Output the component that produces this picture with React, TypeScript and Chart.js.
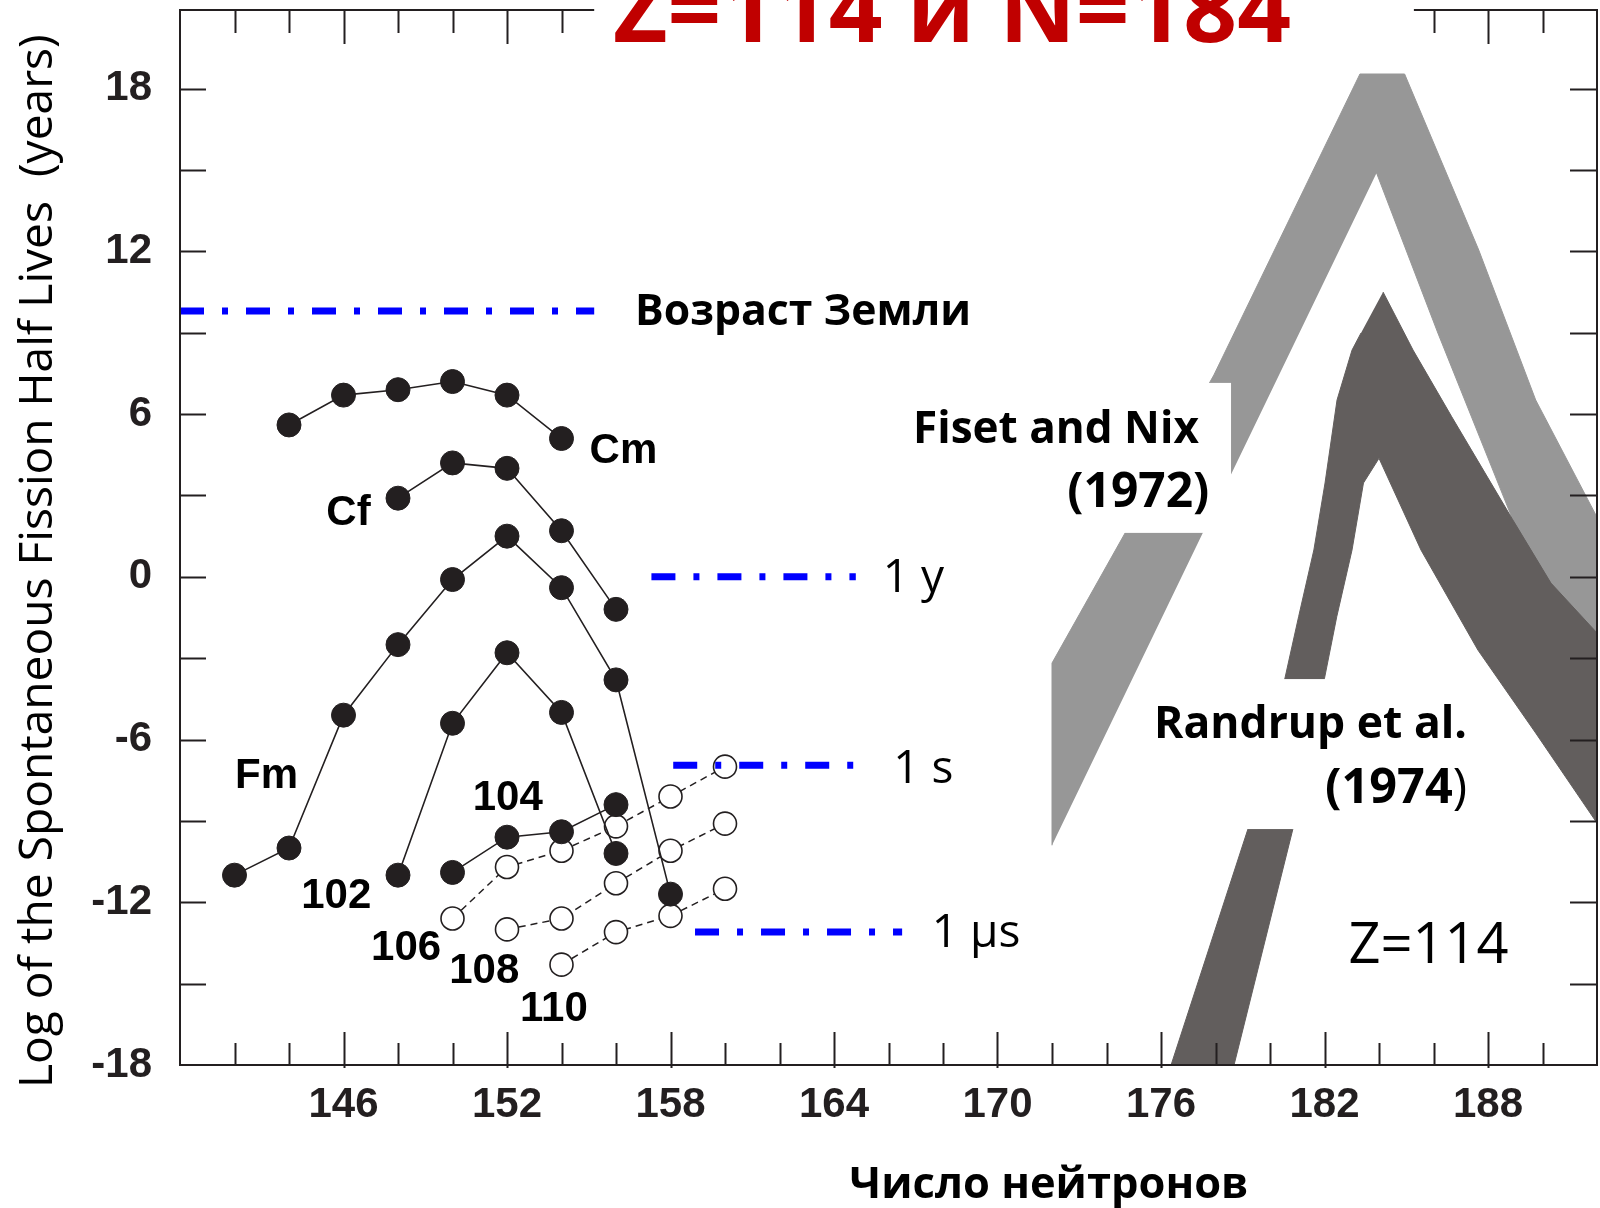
import React, { useEffect, useRef } from 'react';
import { Chart, registerables } from 'chart.js';

Chart.register(...registerables);

// ---------- axes ----------
const N_MIN = 140;
const N_MAX = 192;
const LOG_MIN = -18;
const LOG_MAX = 20.9;
const X_TICKS = [140, 142, 144, 146, 148, 150, 152, 154, 156, 158, 160, 162, 164, 166, 168, 170, 172, 174, 176, 178, 180, 182, 184, 186, 188, 190, 192];
const X_LABELS = [146, 152, 158, 164, 170, 176, 182, 188];
const Y_TICKS = [-18, -15, -12, -9, -6, -3, 0, 3, 6, 9, 12, 15, 18];
const Y_LABELS = [-18, -12, -6, 0, 6, 12, 18];

// ---------- measured half-lives (log10 years) ----------
const CM_N = [144, 146, 148, 150, 152, 154];
const CM_LOG = [5.6, 6.7, 6.9, 7.2, 6.7, 5.1];
const CF_N = [148, 150, 152, 154, 156];
const CF_LOG = [2.9, 4.2, 4.0, 1.7, -1.2];
const FM_N = [142, 144, 146, 148, 150, 152, 154, 156, 158];
const FM_LOG = [-11.0, -10.0, -5.1, -2.5, -0.1, 1.5, -0.4, -3.8, -11.7];
const Z102_N = [148, 150, 152, 154, 156];
const Z102_LOG = [-11.0, -5.4, -2.8, -5.0, -10.2];
const Z104_N = [150, 152, 154, 156];
const Z104_LOG = [-10.9, -9.6, -9.4, -8.4];
const Z106_N = [150, 152, 154, 156, 158, 160];
const Z106_LOG = [-12.6, -10.7, -10.1, -9.2, -8.1, -7.0];
const Z108_N = [152, 154, 156, 158, 160];
const Z108_LOG = [-13.0, -12.6, -11.3, -10.1, -9.1];
const Z110_N = [154, 156, 158, 160];
const Z110_LOG = [-14.3, -13.1, -12.5, -11.5];

// ---------- reference time levels ----------
const EARTH_LOG = 9.8;
const EARTH_N = [140, 155.2];
const YEAR_LOG = 0;
const YEAR_N = [157.3, 164.8];
const SECOND_LOG = -6.95;
const SECOND_N = [158.1, 164.8];
const MICRO_LOG = -13.1;
const MICRO_N = [158.9, 166.5];

// ---------- predicted bands (Z=114) ----------
const FISET_N = [172.0, 172.0, 177.94, 183.3, 184.94, 187.66, 189.75, 192, 192, 188.91, 186.16, 183.91];
const FISET_LOG = [-9.9, -3.18, 7.44, 18.54, 18.54, 12.05, 6.52, 2.2, -5.8, 2.1, 8.99, 14.89];
const RANDRUP_N = [184.15, 185.25, 186.67, 188.91, 190.31, 192, 192, 189.75, 187.63, 185.54, 184.0, 183.43, 183.01, 182.45, 182.0, 180.84, 178.68, 176.37, 179.19, 180.55, 181.05, 181.61, 182.02, 182.46, 183.01, 183.34];
const RANDRUP_LOG = [10.5, 8.36, 5.9, 2.1, -0.23, -2.07, -9.08, -5.76, -2.7, 0.99, 4.37, 3.46, 0.99, -1.47, -3.74, -9.3, -18, -18, -9.3, -3.73, -1.47, 0.99, 3.46, 6.52, 8.36, 8.99];

// ---------- styling / annotation config ----------
const INK = '#231f20';
const BLUE = '#0000ff';
const LIGHT_GREY = '#979797';
const DARK_GREY = '#625e5d';
const SANS = '"Open Sans", "Noto Sans", sans-serif';
const ARIAL = '"Liberation Sans", Arial, sans-serif';

type Part = { t: string; w: string };
type Note = { parts: Part[]; n: number; log: number; align: 'left' | 'right' | 'center'; family: string; size?: number; fit?: number; color?: string };

const NOTES: Note[] = [
  { parts: [{ t: 'Возраст Земли', w: 'bold' }], n: 156.7, log: 9.28, align: 'left', family: SANS, fit: 336 },
  { parts: [{ t: '1 y', w: 'normal' }], n: 165.79, log: -0.555, align: 'left', family: SANS, size: 46 },
  { parts: [{ t: '1 s', w: 'normal' }], n: 166.17, log: -7.62, align: 'left', family: SANS, size: 46 },
  { parts: [{ t: '1 µs', w: 'normal' }], n: 167.59, log: -13.64, align: 'left', family: SANS, size: 46 },
  { parts: [{ t: 'Cm', w: 'bold' }], n: 155.03, log: 4.18, align: 'left', family: ARIAL, size: 42 },
  { parts: [{ t: 'Cf', w: 'bold' }], n: 145.37, log: 1.9, align: 'left', family: ARIAL, size: 42 },
  { parts: [{ t: 'Fm', w: 'bold' }], n: 142.02, log: -7.8, align: 'left', family: ARIAL, size: 42 },
  { parts: [{ t: '102', w: 'bold' }], n: 144.45, log: -12.22, align: 'left', family: ARIAL, size: 42 },
  { parts: [{ t: '104', w: 'bold' }], n: 150.74, log: -8.6, align: 'left', family: ARIAL, size: 42 },
  { parts: [{ t: '106', w: 'bold' }], n: 147.01, log: -14.13, align: 'left', family: ARIAL, size: 42 },
  { parts: [{ t: '108', w: 'bold' }], n: 149.88, log: -14.99, align: 'left', family: ARIAL, size: 42 },
  { parts: [{ t: '110', w: 'bold' }], n: 152.48, log: -16.37, align: 'left', family: ARIAL, size: 42 },
  { parts: [{ t: 'Fiset and Nix', w: 'bold' }], n: 177.39, log: 4.92, align: 'right', family: SANS, fit: 286 },
  { parts: [{ t: '(1972)', w: 'bold' }], n: 177.77, log: 2.58, align: 'right', family: SANS, fit: 142 },
  { parts: [{ t: 'Randrup et al.', w: 'bold' }], n: 187.23, log: -5.96, align: 'right', family: SANS, fit: 313 },
  { parts: [{ t: '(1974', w: 'bold' }, { t: ')', w: 'normal' }], n: 187.23, log: -8.35, align: 'right', family: SANS, fit: 142 },
  { parts: [{ t: 'Z=114', w: 'normal' }], n: 182.88, log: -14.25, align: 'left', family: SANS, size: 56 },
];

const WHITE_BOXES = [
  { n0: 165.7, n1: 178.57, log0: 7.15, log1: 1.62 },
  { n0: 175.2, n1: 187.7, log0: -3.77, log1: -9.3 },
];
const TITLE_GAP = { n0: 155.2, n1: 185.28 };

const pts = (xs: number[], ys: number[]) => xs.map((x, i) => ({ x, y: ys[i] }));

function drawNote(ctx: CanvasRenderingContext2D, note: Note, px: number, py: number) {
  const fontAt = (w: string, s: number) => `${w} ${s}px ${note.family}`;
  let size = note.size || 40;
  if (note.fit) {
    let w100 = 0;
    for (const p of note.parts) { ctx.font = fontAt(p.w, 100); w100 += ctx.measureText(p.t).width; }
    size = (100 * note.fit) / w100;
  }
  const widths = note.parts.map((p) => { ctx.font = fontAt(p.w, size); return ctx.measureText(p.t).width; });
  const total = widths.reduce((a, b) => a + b, 0);
  let sx = note.align === 'left' ? px : note.align === 'right' ? px - total : px - total / 2;
  ctx.textAlign = 'left';
  ctx.textBaseline = 'alphabetic';
  ctx.fillStyle = note.color || '#000';
  note.parts.forEach((p, i) => { ctx.font = fontAt(p.w, size); ctx.fillText(p.t, sx, py); sx += widths[i]; });
}

function fitText(ctx: CanvasRenderingContext2D, text: string, weight: string, family: string, width: number) {
  ctx.font = `${weight} 100px ${family}`;
  const s = (100 * width) / ctx.measureText(text).width;
  ctx.font = `${weight} ${s}px ${family}`;
}

const decor = {
  id: 'decor',
  afterDatasetsDraw(chart: any) {
    const { ctx, chartArea: a, scales } = chart;
    const xs = scales.x;
    const ys = scales.y;
    ctx.save();
    // label boxes hiding parts of bands
    ctx.fillStyle = '#ffffff';
    for (const b of WHITE_BOXES) {
      const x0 = xs.getPixelForValue(b.n0), x1 = xs.getPixelForValue(b.n1);
      const y0 = ys.getPixelForValue(b.log0), y1 = ys.getPixelForValue(b.log1);
      ctx.fillRect(x0, y0, x1 - x0, y1 - y0);
    }
    // frame
    ctx.strokeStyle = INK;
    ctx.lineWidth = 2;
    ctx.lineCap = 'butt';
    ctx.strokeRect(a.left, a.top, a.right - a.left, a.bottom - a.top);
    const line = (x0: number, y0: number, x1: number, y1: number) => { ctx.beginPath(); ctx.moveTo(x0, y0); ctx.lineTo(x1, y1); ctx.stroke(); };
    for (const t of xs.ticks) {
      if (t.value <= N_MIN || t.value >= N_MAX) continue;
      const px = Math.round(xs.getPixelForValue(t.value)) + 0.5;
      const major = X_LABELS.includes(t.value);
      line(px, a.bottom + (major ? 3 : 0), px, a.bottom - (major ? 33 : 22));
      line(px, a.top, px, a.top + (major ? 34 : 23));
    }
    for (const t of ys.ticks) {
      if (t.value <= LOG_MIN || t.value >= LOG_MAX) continue;
      const py = Math.round(ys.getPixelForValue(t.value)) + 0.5;
      line(a.left, py, a.left + 26, py);
      line(a.right, py, a.right - 27, py);
    }
    // gap in the top frame for the title
    ctx.fillStyle = '#ffffff';
    const g0 = xs.getPixelForValue(TITLE_GAP.n0), g1 = xs.getPixelForValue(TITLE_GAP.n1);
    ctx.fillRect(g0, 0, g1 - g0, a.top + 42);
    // annotations
    for (const note of NOTES) drawNote(ctx, note, xs.getPixelForValue(note.n), ys.getPixelForValue(note.log));
    // title
    ctx.fillStyle = '#c00000';
    ctx.textAlign = 'left';
    ctx.textBaseline = 'alphabetic';
    fitText(ctx, 'Z=114 и N=184', 'bold', SANS, 678);
    ctx.fillText('Z=114 и N=184', 613, 42);
    // x title
    ctx.fillStyle = '#000';
    ctx.textAlign = 'center';
    fitText(ctx, 'Число нейтронов', 'bold', SANS, 399);
    ctx.fillText('Число нейтронов', 1049, 1198);
    // y title
    ctx.save();
    ctx.translate(52, 1088);
    ctx.rotate(-Math.PI / 2);
    ctx.textAlign = 'left';
    fitText(ctx, 'Log of the Spontaneous Fission Half Lives  (years)', 'normal', SANS, 1054);
    ctx.fillText('Log of the Spontaneous Fission Half Lives  (years)', 0, 0);
    ctx.restore();
    ctx.restore();
  },
};

export default function App() {
  const ref = useRef<HTMLCanvasElement | null>(null);
  useEffect(() => {
    document.body.style.margin = '0';
    const canvas = ref.current;
    if (!canvas) return;
    const filled = (label: string, xs: number[], ys: number[]) => ({
      label, data: pts(xs, ys), showLine: true, borderColor: INK, borderWidth: 1.6,
      pointRadius: 12, pointBackgroundColor: INK, pointBorderColor: INK, pointBorderWidth: 1, order: 1,
    });
    const open = (label: string, xs: number[], ys: number[]) => ({
      label, data: pts(xs, ys), showLine: true, borderColor: INK, borderWidth: 1.5, borderDash: [7, 5],
      pointRadius: 11.5, pointBackgroundColor: '#ffffff', pointBorderColor: INK, pointBorderWidth: 1.6, order: 2,
    });
    const level = (label: string, xs: number[], v: number) => ({
      label, data: xs.map((x) => ({ x, y: v })), showLine: true, borderColor: BLUE, borderWidth: 7,
      borderDash: [24, 18, 6, 18], pointRadius: 0, order: 0,
    });
    const band = (label: string, xs: number[], ys: number[], color: string, order: number) => ({
      label, data: pts(xs, ys), showLine: true, fill: 'shape', backgroundColor: color, borderColor: color,
      borderWidth: 1, pointRadius: 0, order,
    });
    const chart = new Chart(canvas, {
      type: 'scatter',
      data: {
        datasets: [
          filled('Cm', CM_N, CM_LOG),
          filled('Cf', CF_N, CF_LOG),
          filled('Fm', FM_N, FM_LOG),
          filled('102', Z102_N, Z102_LOG),
          filled('104', Z104_N, Z104_LOG),
          open('106', Z106_N, Z106_LOG),
          open('108', Z108_N, Z108_LOG),
          open('110', Z110_N, Z110_LOG),
          level('Возраст Земли', EARTH_N, EARTH_LOG),
          level('1 y', YEAR_N, YEAR_LOG),
          level('1 s', SECOND_N, SECOND_LOG),
          level('1 µs', MICRO_N, MICRO_LOG),
          band('Randrup et al. (1974)', RANDRUP_N, RANDRUP_LOG, DARK_GREY, 9),
          band('Fiset and Nix (1972)', FISET_N, FISET_LOG, LIGHT_GREY, 10),
        ] as any,
      },
      options: {
        responsive: false,
        animation: false,
        devicePixelRatio: 1,
        layout: { autoPadding: false, padding: { top: 10, right: 3, left: 0, bottom: 0 } },
        plugins: { legend: { display: false }, tooltip: { enabled: false } },
        events: [],
        scales: {
          x: {
            type: 'linear', position: 'bottom', min: N_MIN, max: N_MAX,
            afterBuildTicks: (s: any) => { s.ticks = X_TICKS.map((v) => ({ value: v })); },
            afterFit: (s: any) => { s.height = 143; },
            ticks: {
              autoSkip: false, maxRotation: 0, minRotation: 0, padding: 0, color: INK,
              font: { family: ARIAL, size: 42, weight: 'bold', lineHeight: 1.2 },
              callback: (v: any) => (X_LABELS.includes(Number(v)) ? String(v) : ''),
            },
            grid: { display: true, drawOnChartArea: false, drawTicks: true, tickLength: 15, color: 'rgba(0,0,0,0)', tickColor: 'rgba(0,0,0,0)' },
            border: { display: false },
          },
          y: {
            type: 'linear', position: 'left', min: LOG_MIN, max: LOG_MAX,
            afterBuildTicks: (s: any) => { s.ticks = Y_TICKS.map((v) => ({ value: v })); },
            afterFit: (s: any) => { s.width = 180; },
            ticks: {
              autoSkip: false, padding: 0, color: INK,
              font: { family: ARIAL, size: 42, weight: 'bold', lineHeight: 0.4 },
              callback: (v: any) => (Y_LABELS.includes(Number(v)) ? String(v) : ''),
            },
            grid: { display: true, drawOnChartArea: false, drawTicks: true, tickLength: 28, color: 'rgba(0,0,0,0)', tickColor: 'rgba(0,0,0,0)' },
            border: { display: false },
          },
        },
      } as any,
      plugins: [decor],
    });
    return () => chart.destroy();
  }, []);
  return (
    <div style={{ width: 1600, height: 1208 }}>
      <canvas ref={ref} width={1600} height={1208} style={{ display: 'block', width: 1600, height: 1208 }} />
    </div>
  );
}
